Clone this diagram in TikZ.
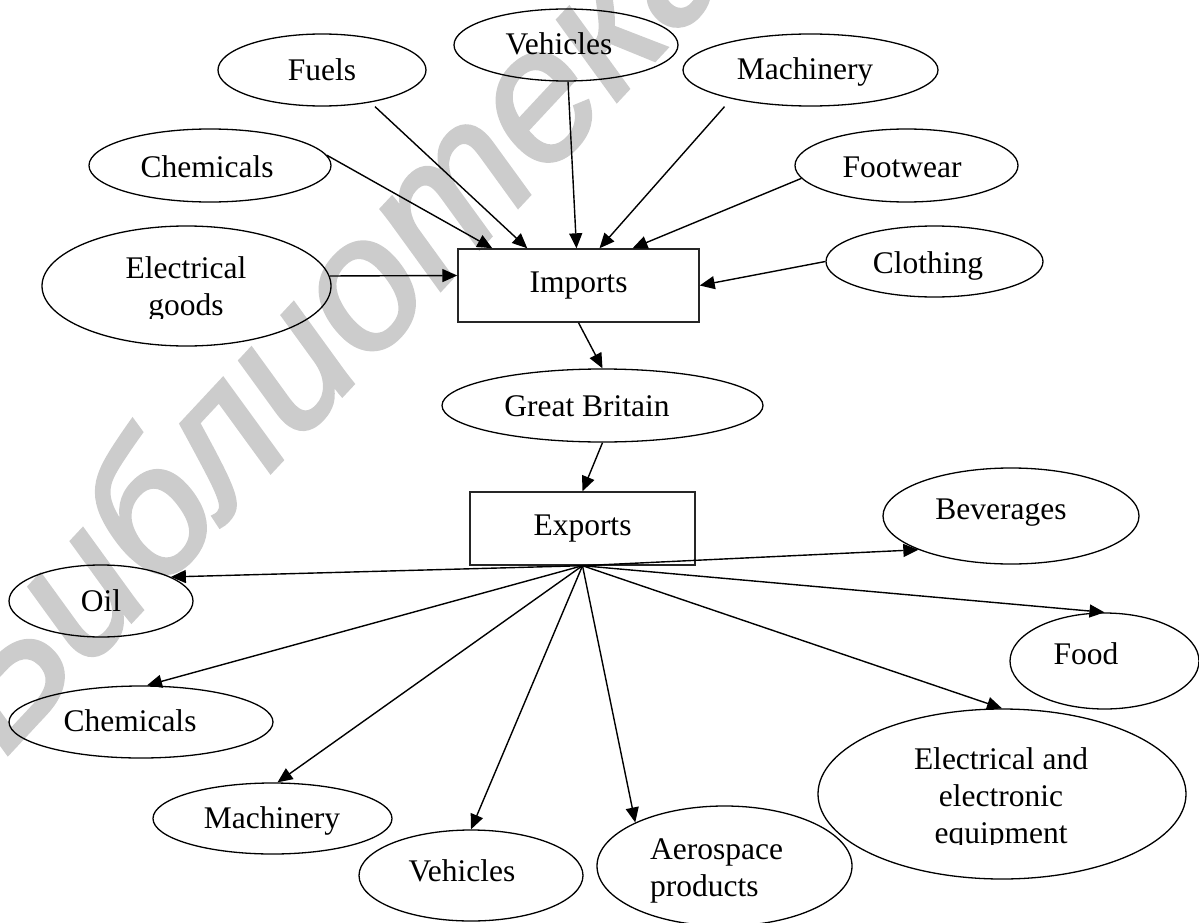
\documentclass[tikz,border=0pt]{standalone}
\usepackage{fontspec}
\setmainfont{Liberation Serif}
\newfontfamily\wmfont{Liberation Sans}[FakeBold=2]
\usetikzlibrary{shapes.geometric,arrows.meta}
\definecolor{wmgray}{RGB}{204,204,204}
\begin{document}
\begin{tikzpicture}[x=1pt,y=-1pt,
  oval/.style={ellipse, draw, line width=1.3pt, inner sep=0pt},
  boxnode/.style={rectangle, draw=black!85, line width=1.4pt, inner sep=0pt,
    font=\fontsize{31.5}{37}\selectfont},
  txt/.style={inner sep=0pt, font=\fontsize{31.5}{37}\selectfont, anchor=base},
  conn/.style={line width=1.4pt, -{Triangle[length=15pt,width=13pt]}},
]
\clip (0,0) rectangle (1199,923);

% library stamp in the background
\node[font=\wmfont\itshape\fontsize{186}{186}\selectfont, text=wmgray,
      rotate=47, anchor=base west, inner sep=0pt] (stamp) at (4,758) {Библиотека};

% ---- imports side ----
\node[oval, minimum width=208pt, minimum height=72pt] (fuels) at (322,70) {};
\node[txt] (fuels-t) at (322,81) {Fuels};
\node[oval, minimum width=224pt, minimum height=72pt] (veh1) at (566,45) {};
\node[txt] (veh1-t) at (559,55) {Vehicles};
\node[oval, minimum width=255pt, minimum height=72pt] (mach1) at (810.5,70) {};
\node[txt] (mach1-t) at (805,80) {Machinery};
\node[oval, minimum width=242pt, minimum height=73pt] (chem1) at (210,165.5) {};
\node[txt] (chem1-t) at (207,177) {Chemicals};
\node[oval, minimum width=223pt, minimum height=73pt] (foot) at (906.5,165.5) {};
\node[txt] (foot-t) at (902,177) {Footwear};
\node[oval, minimum width=289pt, minimum height=120pt] (elec) at (186.5,286) {};
\begin{scope}
  % the lower line is cut just under its baseline
  \clip (40,230) rectangle (335,318);
  \node[txt, align=center] (elec-t) at (186,315) {Electrical\\goods};
\end{scope}
\node[oval, minimum width=217pt, minimum height=71pt] (cloth) at (934.5,261.5) {};
\node[txt] (cloth-t) at (928,273) {Clothing};

\node[boxnode, minimum width=241pt, minimum height=73pt] (imports) at (578.5,285.5) {Imports};
\node[oval, minimum width=321pt, minimum height=73pt] (gb) at (602.5,405.5) {};
\node[txt] (gb-t) at (587,416) {Great Britain};
\node[boxnode, minimum width=225pt, minimum height=73pt] (exports) at (582.5,528.5) {Exports};

% ---- exports side ----
\node[oval, minimum width=256pt, minimum height=96pt] (bev) at (1011,516) {};
\node[txt] (bev-t) at (1001,519) {Beverages};
\node[oval, minimum width=184pt, minimum height=72pt] (oil) at (101,601) {};
\node[txt] (oil-t) at (101,611) {Oil};
\node[oval, minimum width=189pt, minimum height=96pt] (food) at (1104.5,661) {};
\node[txt] (food-t) at (1086,664) {Food};
\node[oval, minimum width=264pt, minimum height=72pt] (chem2) at (141,722) {};
\node[txt] (chem2-t) at (130,731) {Chemicals};
\node[oval, minimum width=239pt, minimum height=71pt] (mach2) at (272.5,818.5) {};
\node[txt] (mach2-t) at (272,828) {Machinery};
\node[oval, minimum width=224pt, minimum height=91pt] (veh2) at (471,875.5) {};
\node[txt] (veh2-t) at (462,881) {Vehicles};
\node[oval, minimum width=255pt, minimum height=120pt] (aero) at (724.5,866) {};
\node[txt, align=left, anchor=base west] (aero-t) at (650,896) {Aerospace\\products};
\node[oval, minimum width=368pt, minimum height=170pt] (eee) at (1002,794) {};
\begin{scope}
  % the last line is cut at its baseline
  \clip (820,712) rectangle (1185,844.5);
  \node[txt, align=center] (eee-t) at (1001,843) {Electrical and\\electronic\\equipment};
\end{scope}

% ---- connectors into Imports ----
\draw[conn] (chem1.5.4) -- ([xshift=35pt]imports.north west);
\draw[conn] ([xshift=53pt]fuels.south) -- ([xshift=70pt]imports.north west);
\draw[conn] ([xshift=2pt]veh1.south) -- ([xshift=-2pt]imports.north);
\draw[conn] ([xshift=-86pt]mach1.south) -- ([xshift=21pt]imports.north);
\draw[conn] (foot.187) -- ([xshift=54pt]imports.north);
\draw[conn] (cloth.west) -- (imports.east);
\draw[conn] (elec.4.4) -- ([yshift=10pt]imports.west);
\draw[conn] (imports.south) -- (gb.north);
\draw[conn] (gb.south) -- (exports.north);

% ---- connectors out of Exports ----
\draw[conn] (exports.south) -- (oil.19.9);
\draw[conn] (exports.south) -- ([xshift=6pt]chem2.north);
\draw[conn] (exports.south) -- ([xshift=5pt]mach2.north);
\draw[conn] (exports.south) -- (veh2.north);
\draw[conn] (exports.south) -- (aero.154.8);
\draw[conn] (exports.south) -- (eee.north);
\draw[conn] (exports.south) -- (food.north);
\draw[conn] (exports.south) -- (bev.200.6);
\end{tikzpicture}
\end{document}
